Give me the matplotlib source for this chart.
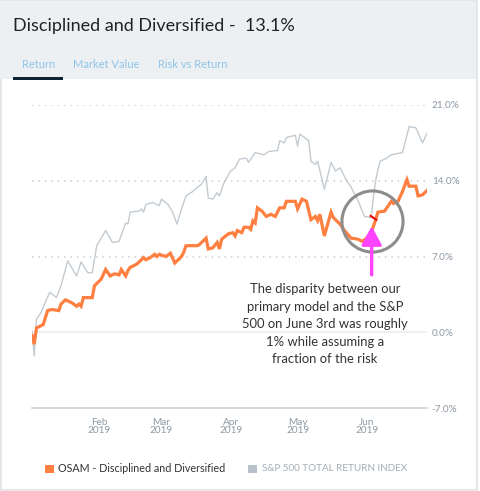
import matplotlib
matplotlib.use("Agg")
import matplotlib.pyplot as plt
from matplotlib.patches import Rectangle
import pandas as pd

# ---------------- data ----------------
sp_dates = ["01-02","01-03","01-04","01-06","01-08","01-10","01-13","01-15","01-18","01-22",
            "01-24","01-27","01-29","01-31","02-04","02-07","02-10","02-13","02-14","02-15",
            "02-19","02-20","02-21","02-22","02-25","02-28","03-01","03-04","03-06","03-08",
            "03-10","03-12","03-15","03-16","03-19","03-21","03-22","03-24","03-26","03-27",
            "03-29","04-01","04-03","04-05","04-08","04-09","04-12","04-16","04-18","04-22",
            "04-23","04-25","04-26","04-30","05-01","05-02","05-06","05-07","05-09","05-10",
            "05-13","05-16","05-18","05-20","05-23","05-25","05-28","05-30","05-31","06-03",
            "06-04","06-05","06-06","06-07","06-10","06-12","06-17","06-20","06-23","06-26","06-28"]
sp_values = [0.1,-2.2,1.2,1.8,2.8,3.7,3.2,4.3,6.6,5.2,
             6.5,5.5,5.5,8.0,9.4,8.3,8.4,10.1,10.0,11.1,
             11.2,11.4,11.1,11.8,12.0,11.7,12.3,11.8,11.1,10.0,
             11.4,12.6,13.0,13.2,13.7,14.4,12.4,12.3,12.9,12.6,
             13.8,14.9,15.2,16.0,16.1,15.7,16.6,16.4,16.7,16.8,
             17.7,17.5,18.0,18.2,17.2,18.3,17.7,15.8,15.5,15.8,
             13.2,15.7,14.9,15.2,14.0,13.4,12.2,11.2,10.7,10.6,
             12.5,14.0,15.0,15.8,16.1,16.4,16.6,19.0,18.9,17.5,18.4]

osam_dates = ["01-02","01-03","01-04","01-07","01-09","01-11","01-14","01-15","01-17","01-20",
              "01-22","01-23","01-24","01-25","01-29","01-30","02-02","02-04","02-06","02-08",
              "02-10","02-11","02-13","02-14","02-15","02-18","02-21","02-22","02-24","02-26",
              "02-27","02-28","03-03","03-05","03-07","03-10","03-11","03-12","03-17","03-18",
              "03-20","03-21","03-22","03-24","03-26","03-27","03-28","03-31","04-02","04-03",
              "04-04","04-06","04-07","04-09","04-10","04-11","04-12","04-13","04-15","04-17",
              "04-19","04-21","04-23","04-25","04-26","04-30","05-01","05-03","05-05","05-07",
              "05-09","05-10","05-11","05-13","05-16","05-17","05-20","05-22","05-25","05-28",
              "05-30","06-01","06-03","06-05","06-06","06-09","06-10","06-12","06-13","06-15",
              "06-17","06-19","06-20","06-23","06-24","06-26","06-28"]
osam_values = [-0.3,-1.1,0.4,0.7,2.0,2.1,2.0,2.6,3.0,2.7,
               2.4,2.6,2.4,3.2,3.2,4.3,4.9,5.8,5.2,5.4,
               5.3,5.8,5.2,5.7,6.0,6.3,6.9,6.7,6.9,7.2,
               7.0,7.2,7.0,7.3,6.4,7.0,7.4,8.0,8.0,8.1,
               8.5,8.7,7.7,7.8,8.3,7.7,8.6,9.1,9.2,8.9,
               9.4,9.2,9.7,9.7,9.5,10.3,10.1,11.5,11.2,10.7,
               10.9,10.7,11.5,11.5,12.1,12.1,11.4,12.3,12.1,10.4,
               10.7,10.3,10.9,8.9,11.1,10.6,10.0,9.4,8.7,8.6,
               8.4,8.7,9.2,10.4,11.1,11.2,11.5,12.1,11.9,12.1,
               13.0,14.1,13.5,13.5,12.6,12.7,13.1]

month_ticks = ["2019-02-01","2019-03-01","2019-04-01","2019-05-01","2019-06-01"]
month_labels = ["Feb\n2019","Mar\n2019","Apr\n2019","May\n2019","Jun\n2019"]
y_ticks = [-7, 0, 7, 14, 21]
y_labels = ["-7.0%", "0.0%", "7.0%", "14.0%", "21.0%"]

title = "Disciplined and Diversified -  13.1%"
tabs = ["Return", "Market Value", "Risk vs Return"]
series_names = ["OSAM - Disciplined and Diversified", "S&P 500 TOTAL RETURN INDEX"]
note = ("The disparity between our\nprimary model and the S&P\n500 on June 3rd was roughly\n"
        "1% while assuming a\nfraction of the risk")

sp_x = pd.to_datetime(["2019-" + d for d in sp_dates])
os_x = pd.to_datetime(["2019-" + d for d in osam_dates])

# ---------------- figure ----------------
W, H = 480, 491
FONT = ["Lato", "DejaVu Sans"]
plt.rcParams["font.family"] = FONT
fig = plt.figure(figsize=(W / 100, H / 100), dpi=100)
fig.patch.set_facecolor("white")

def fx(px):
    return px / W

def fy(py):
    return 1 - py / H

# card border + header
fig.patches.append(Rectangle((fx(0.5), fy(489.5)), fx(476), 488.5 / H, transform=fig.transFigure,
                             fill=False, ec="#dfe3e6", lw=1.2, zorder=0))
fig.patches.append(Rectangle((fx(0), fy(79)), fx(475.5), 78 / H, transform=fig.transFigure,
                             fc="#edf0f3", ec="none", zorder=0))
fig.text(fx(13), fy(26), title, ha="left", va="center", fontsize=13, color="#222222")
tab_x = [39, 106, 193]
for t, x in zip(tabs, tab_x):
    fig.text(fx(x), fy(64), t, ha="center", va="center", fontsize=8, color="#8ec4e8")
fig.patches.append(Rectangle((fx(13), fy(79.5)), fx(50), 3 / H, transform=fig.transFigure,
                             fc="#0e2434", ec="none", zorder=1))

# axes
ax = fig.add_axes([fx(32), fy(408), fx(427) - fx(32), (408 - 105) / H])
ax.set_facecolor("none")
x0, x1 = pd.Timestamp("2019-01-02"), pd.Timestamp("2019-06-28")
ax.set_xlim(x0, x1)
ax.set_ylim(-7, 21)
for s in ax.spines.values():
    s.set_visible(False)

for yv in [7, 14, 21]:
    ax.axhline(yv, color="#c9cdd1", lw=1.1, ls=(0, (1, 3.2)), zorder=1)
ax.axhline(0, color="#ececec", lw=1.1, zorder=1)
ax.axhline(-7, color="#c9d3dc", lw=1.2, zorder=1, clip_on=False)

ax.plot(sp_x, sp_values, color="#c3cbd1", lw=1.0, zorder=2)
ax.plot(os_x, osam_values, color="#ff7f40", lw=2.3, zorder=3, solid_joinstyle="miter")

# annotations
jun3 = pd.Timestamp("2019-06-03 05:00")
ax.plot([pd.Timestamp("2019-06-02 18:00"), pd.Timestamp("2019-06-05 06:00")], [10.75, 10.4],
        color="#ee1111", lw=1.6, zorder=4)
ax.plot([jun3], [10.3], marker="o", markersize=44, mfc="none", mec="#8c8c8c", mew=2.2, zorder=5)
ax.annotate("", xy=(jun3, 9.8), xytext=(jun3, 5.3),
            arrowprops=dict(arrowstyle="-|>,head_length=0.7,head_width=0.38", color="#ff44ff",
                            lw=2.4, mutation_scale=16, shrinkA=0, shrinkB=0), zorder=5)
ax.text(0.742, 0.276, note, transform=ax.transAxes, ha="center", va="center",
        fontsize=9.4, color="#333333", linespacing=1.55, zorder=6)

# ticks
ax.set_xticks(pd.to_datetime(month_ticks))
ax.set_xticklabels(month_labels, fontsize=7.2, color="#8d98a3", linespacing=0.95)
ax.tick_params(axis="x", length=0, pad=7)
ax.yaxis.tick_right()
ax.set_yticks(y_ticks)
ax.set_yticklabels(y_labels, fontsize=7.2, color="#8d98a3")
ax.tick_params(axis="y", length=0, pad=3.5)

# legend
fig.patches.append(Rectangle((fx(45), fy(473)), fx(8.5), 8.5 / H, transform=fig.transFigure,
                             fc="#ff7f40", ec="none"))
fig.text(fx(58), fy(468.5), series_names[0], ha="left", va="center", fontsize=7.75, color="#333333")
fig.patches.append(Rectangle((fx(248), fy(473)), fx(8.5), 8.5 / H, transform=fig.transFigure,
                             fc="#b9c2ca", ec="none"))
fig.text(fx(262), fy(468.5), series_names[1], ha="left", va="center", fontsize=7.1, color="#a4adb5")

fig.savefig("out.png", dpi=100)
